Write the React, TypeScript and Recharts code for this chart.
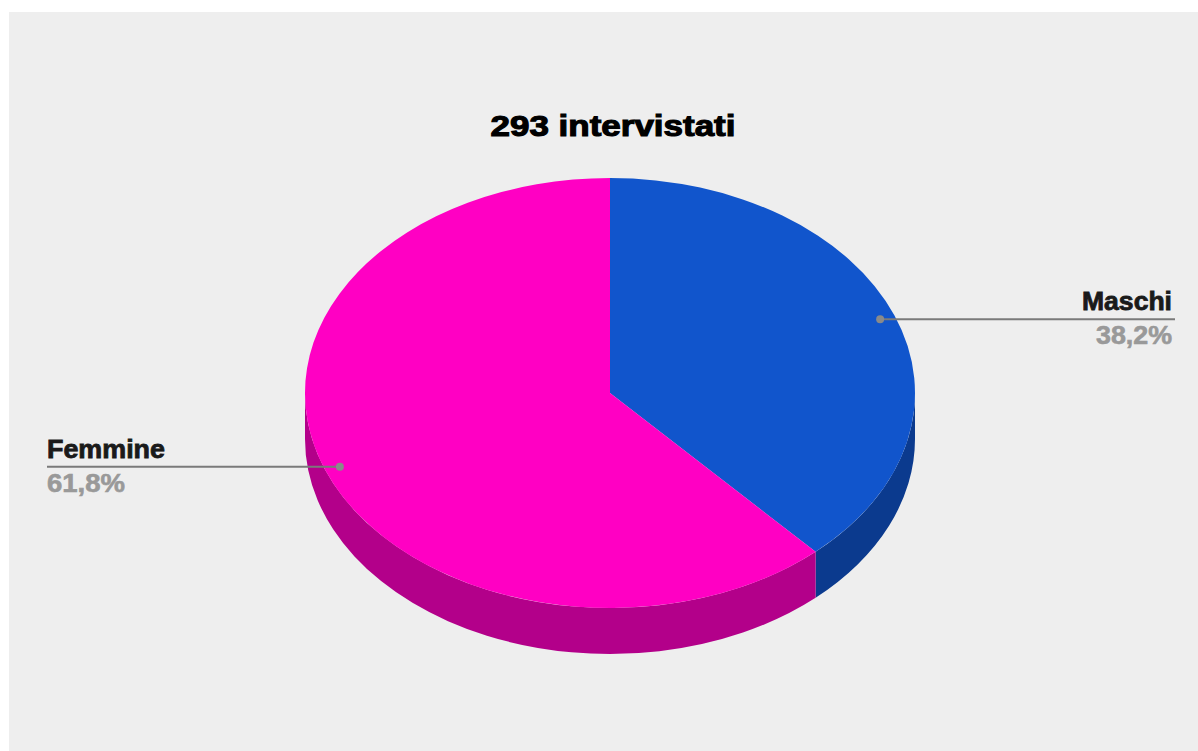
import React from 'react';
import { PieChart, Pie, Cell } from 'recharts';

const categories = ['Maschi', 'Femmine'];
const counts = [112, 181];
const topColors = ['#1155cc', '#ff00c3'];
const sideColors = ['#0b3a8e', '#b3008a'];
const titleText = `${counts.reduce((a, b) => a + b, 0)} intervistati`;

const data = categories.map((name, i) => ({ name, value: counts[i], top: topColors[i], side: sideColors[i] }));

const W = 1198;
const H = 751;
const CX = 610;
const CY = 393;
const R = 305;
const RY_RATIO = 215 / 305;
const DEPTH = 46;
const RAD = Math.PI / 180;
const FONT = '"Liberation Sans", Arial, sans-serif';

const pt = (cx: number, cy: number, rx: number, ry: number, a: number) => [
  cx + rx * Math.cos(a * RAD),
  cy - ry * Math.sin(a * RAD),
];

const topPath = (cx: number, cy: number, outerRadius: number, startAngle: number, endAngle: number) => {
  const rx = outerRadius;
  const ry = outerRadius * RY_RATIO;
  const [x1, y1] = pt(cx, cy, rx, ry, startAngle);
  const [x2, y2] = pt(cx, cy, rx, ry, endAngle);
  const delta = Math.abs(endAngle - startAngle);
  const large = delta > 180 ? 1 : 0;
  const sweep = startAngle > endAngle ? 1 : 0;
  return `M${cx},${cy} L${x1},${y1} A${rx},${ry} 0 ${large} ${sweep} ${x2},${y2} Z`;
};

const sidePath = (cx: number, cy: number, outerRadius: number, startAngle: number, endAngle: number) => {
  const rx = outerRadius;
  const ry = outerRadius * RY_RATIO;
  const lo = Math.min(startAngle, endAngle);
  const hi = Math.max(startAngle, endAngle);
  const paths: string[] = [];
  for (let k = -2; k <= 2; k++) {
    const s = Math.max(lo, -180 + 360 * k);
    const e = Math.min(hi, 360 * k);
    if (e - s > 0.01) {
      const [sx, sy] = pt(cx, cy, rx, ry, s);
      const [ex, ey] = pt(cx, cy, rx, ry, e);
      paths.push(
        `M${sx},${sy} A${rx},${ry} 0 0 0 ${ex},${ey} L${ex},${ey + DEPTH} A${rx},${ry} 0 0 1 ${sx},${sy + DEPTH} Z`
      );
    }
  }
  return paths.join(' ');
};

const renderSide = (props: any) => {
  const { cx, cy, outerRadius, startAngle, endAngle, payload } = props;
  const color = (payload && payload.side) || props.side;
  return <path d={sidePath(cx, cy, outerRadius, startAngle, endAngle)} fill={color} stroke="none" />;
};

const renderTop = (props: any) => {
  const { cx, cy, midAngle, outerRadius, startAngle, endAngle, name, percent, payload } = props;
  const color = (payload && payload.top) || props.top;
  const rx = outerRadius * 0.95;
  const ry = outerRadius * RY_RATIO * 0.95;
  const [dx, dy] = pt(cx, cy, rx, ry, midAngle);
  const right = Math.cos(midAngle * RAD) >= 0;
  const lineEnd = right ? 1175 : 47;
  const textX = right ? 1172 : 47;
  const anchor = right ? 'end' : 'start';
  const pctText = `${(percent * 100).toFixed(1).replace('.', ',')}%`;
  const nameW = right ? 90 : 118;
  const pctW = right ? 76 : 78;
  return (
    <g>
      <path d={topPath(cx, cy, outerRadius, startAngle, endAngle)} fill={color} stroke="none" />
      <line x1={dx} y1={dy} x2={lineEnd} y2={dy} stroke="#7a7a7a" strokeWidth={2} />
      <circle cx={dx} cy={dy} r={4} fill="#8a8a8a" />
      <text
        x={textX}
        y={dy - 9}
        textAnchor={anchor}
        fontFamily={FONT}
        fontWeight="bold"
        fontSize={25}
        fill="#1a1a1a"
        stroke="#1a1a1a"
        strokeWidth={0.8}
        textLength={nameW}
        lengthAdjust="spacingAndGlyphs"
      >
        {name}
      </text>
      <text
        x={textX}
        y={dy + 25}
        textAnchor={anchor}
        fontFamily={FONT}
        fontWeight="bold"
        fontSize={25}
        fill="#999999"
        stroke="#999999"
        strokeWidth={0.6}
        textLength={pctW}
        lengthAdjust="spacingAndGlyphs"
      >
        {pctText}
      </text>
    </g>
  );
};

export default function App() {
  return (
    <div style={{ position: 'absolute', left: 0, top: 0, width: W, height: H, background: '#ffffff', overflow: 'hidden' }}>
      <div style={{ position: 'absolute', left: 9, top: 12, width: W - 9, height: H - 12, background: '#eeeeee' }} />
      <div style={{ position: 'absolute', left: 0, top: 0 }}>
        <PieChart width={W} height={H} margin={{ top: 0, right: 0, bottom: 0, left: 0 }}>
          <Pie
            data={data}
            dataKey="value"
            nameKey="name"
            cx={CX}
            cy={CY}
            outerRadius={R}
            startAngle={90}
            endAngle={-270}
            isAnimationActive={false}
            label={renderSide}
            labelLine={false}
            stroke="none"
          >
            {data.map((d) => (
              <Cell key={`s-${d.name}`} fill="transparent" stroke="none" />
            ))}
          </Pie>
          <Pie
            data={data}
            dataKey="value"
            nameKey="name"
            cx={CX}
            cy={CY}
            outerRadius={R}
            startAngle={90}
            endAngle={-270}
            isAnimationActive={false}
            label={renderTop}
            labelLine={false}
            stroke="none"
          >
            {data.map((d) => (
              <Cell key={`t-${d.name}`} fill="transparent" stroke="none" />
            ))}
          </Pie>
        </PieChart>
      </div>
      <svg
        width={W}
        height={H}
        style={{ position: 'absolute', left: 0, top: 0, pointerEvents: 'none' }}
      >
        <text
          x={613}
          y={136}
          textAnchor="middle"
          fontFamily={FONT}
          fontWeight="bold"
          fontSize={29}
          fill="#000000"
          stroke="#000000"
          strokeWidth={1.1}
          textLength={245}
          lengthAdjust="spacingAndGlyphs"
        >
          {titleText}
        </text>
      </svg>
    </div>
  );
}
